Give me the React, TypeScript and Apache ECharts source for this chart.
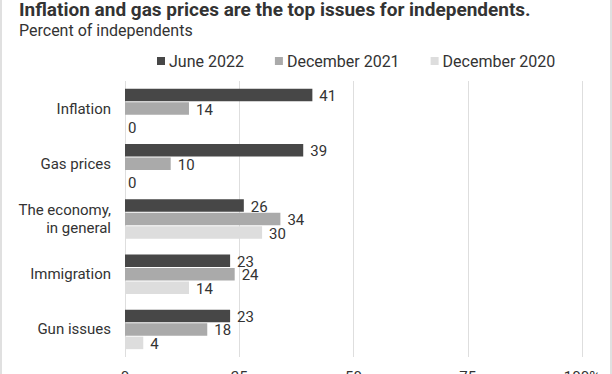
import React, { useEffect, useRef } from "react";
import * as echarts from "echarts";

const categories = ["Inflation", "Gas prices", "The economy,\nin general", "Immigration", "Gun issues"];
const seriesNames = ["June 2022", "December 2021", "December 2020"];
const june2022 = [41, 39, 26, 23, 23];
const dec2021 = [14, 10, 34, 24, 18];
const dec2020 = [0, 0, 30, 14, 4];
const seriesColors = ["#474747", "#aaaaaa", "#dddddd"];
const xTicks = [0, 25, 50, 75, 100];

const FONT = "Roboto";
const TEXT = "#333333";

export default function App() {
  const ref = useRef<HTMLDivElement>(null);
  useEffect(() => {
    const chart = echarts.init(ref.current!, null, { renderer: "svg" });
    const values = [june2022, dec2021, dec2020];
    chart.setOption({
      animation: false,
      backgroundColor: "#ffffff",
      textStyle: { fontFamily: FONT },
      title: [
        {
          text: "Inflation and gas prices are the top issues for independents.",
          left: 14,
          top: -5,
          textStyle: { fontFamily: FONT, fontSize: 19, fontWeight: "bold", color: "#333333" },
        },
        {
          text: "Percent of independents",
          left: 14,
          top: 17,
          textStyle: { fontFamily: FONT, fontSize: 16, fontWeight: "normal", color: "#333333" },
        },
      ],
      legend: {
        data: seriesNames,
        left: 152,
        top: 48,
        itemWidth: 8,
        itemHeight: 8,
        itemGap: 31,
        icon: "rect",
        textStyle: { fontFamily: FONT, fontSize: 16, color: TEXT, padding: [0, 0, 0, -1] },
      },
      grid: { left: 125, right: 30, top: 81, bottom: 17, containLabel: false, outerBoundsMode: "none" },
      xAxis: {
        type: "value",
        min: xTicks[0],
        max: xTicks[xTicks.length - 1],
        interval: 25,
        axisLine: { show: false },
        axisTick: { show: false },
        splitLine: { show: true, lineStyle: { color: "#dedede", width: 1 } },
        axisLabel: {
          margin: 12,
          fontFamily: FONT,
          fontSize: 15,
          color: TEXT,
          formatter: (v: number) => (v === 100 ? "100%" : String(v)),
        },
      },
      yAxis: {
        type: "category",
        data: categories,
        inverse: true,
        axisLine: { show: false },
        axisTick: { show: false },
        axisLabel: { margin: 14, fontFamily: FONT, fontSize: 15, color: TEXT, lineHeight: 18, align: "right" },
      },
      series: seriesNames.map((name, i) => ({
        name,
        type: "bar",
        barWidth: 12.5,
        barGap: "8%",
        itemStyle: { color: seriesColors[i] },
        label: {
          show: true,
          position: "right",
          distance: 7,
          fontFamily: FONT,
          fontSize: 15,
          color: TEXT,
          offset: [0, 1],
        },
        data: values[i].map((v) => (v === 0 ? { value: v, label: { offset: [-4, 6] } } : v)),
      })),
      graphic: [
        { type: "line", shape: { x1: 1, y1: 0, x2: 1, y2: 374 }, style: { stroke: "#d6d6d6", lineWidth: 1.5 } },
        { type: "line", shape: { x1: 611, y1: 0, x2: 611, y2: 374 }, style: { stroke: "#d6d6d6", lineWidth: 1.5 } },
      ],
    });
    return () => chart.dispose();
  }, []);
  return <div ref={ref} style={{ position: "fixed", left: 0, top: 0, width: 612, height: 374 }} />;
}
